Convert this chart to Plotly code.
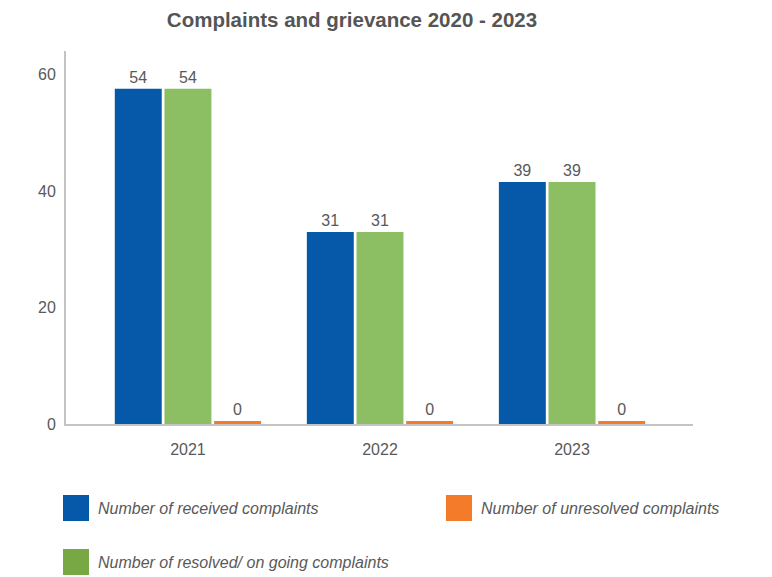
import plotly.graph_objects as go

years = ["2021", "2022", "2023"]

# bar heights as read against the y axis; the printed labels are kept separately
received_height = [57.6, 33.0, 41.6]
resolved_height = [57.6, 33.0, 41.6]
unresolved_height = [0.5, 0.5, 0.5]

received_label = ["54", "31", "39"]
resolved_label = ["54", "31", "39"]
unresolved_label = ["0", "0", "0"]

y_ticks = [0, 20, 40, 60]

legend_names = [
    "Number of received complaints",
    "Number of unresolved complaints",
    "Number of resolved/ on going complaints",
]

BLUE = "#0559A8"
GREEN = "#8CBE63"
GREEN_KEY = "#77A843"
ORANGE = "#F47B29"
TEXT = "#595959"
FONT = "Liberation Sans, Arial, sans-serif"

# the page body has an 8px margin, so the figure sits at (8, 8)
OFF = 8
W, H = 772 - OFF, 577 - OFF
L, R, T, B = 66 - OFF, 79, 51 - OFF, 153
PW, PH = W - L - R, H - T - B


def px_x(x):
    return (x - OFF - L) / PW


def px_y(y):
    return (H - B - (y - OFF)) / PH


fig = go.Figure()
for name, heights, labels, color in [
    (legend_names[0], received_height, received_label, BLUE),
    (legend_names[2], resolved_height, resolved_label, GREEN),
    (legend_names[1], unresolved_height, unresolved_label, ORANGE),
]:
    fig.add_trace(
        go.Bar(
            x=years,
            y=heights,
            name=name,
            marker={"color": color, "line": {"width": 0}},
            text=labels,
            textposition="outside",
            textfont={"size": 16, "color": TEXT, "family": FONT},
            cliponaxis=False,
        )
    )

fig.update_layout(
    width=W,
    height=H,
    template="simple_white",
    paper_bgcolor="white",
    plot_bgcolor="white",
    font={"family": FONT, "color": TEXT, "size": 16},
    title={
        "text": "<b>Complaints and grievance 2020 - 2023</b>",
        "x": (352 - OFF) / W,
        "xanchor": "center",
        "y": 1 - (20 - OFF) / H,
        "yanchor": "middle",
        "font": {"size": 20.5, "color": "#555555", "family": FONT},
    },
    margin={"l": L, "r": R, "t": T, "b": B},
    barmode="group",
    bargap=0.224,
    bargroupgap=0.055,
    showlegend=False,
)
fig.update_xaxes(
    range=[-0.635, 2.63],
    showline=True,
    linecolor="#C4C4C4",
    linewidth=2,
    ticks="",
    tickfont={"size": 16, "color": TEXT},
    ticklabelstandoff=10,
)
fig.update_yaxes(
    range=[0, 64.1],
    tickvals=y_ticks,
    showline=True,
    linecolor="#C4C4C4",
    linewidth=2,
    ticks="",
    showgrid=False,
    zeroline=False,
    tickfont={"size": 16, "color": TEXT},
    ticklabelstandoff=5,
)

# legend drawn by hand so that the keys are large squares
keys = [
    (63, 495, legend_names[0], BLUE),
    (446, 495, legend_names[1], ORANGE),
    (63, 549, legend_names[2], GREEN_KEY),
]
for x0, y0, name, color in keys:
    fig.add_shape(
        type="rect",
        xref="paper",
        yref="paper",
        x0=px_x(x0),
        x1=px_x(x0 + 26),
        y0=px_y(y0),
        y1=px_y(y0 + 26),
        fillcolor=color,
        opacity=1,
        layer="above",
        line={"width": 0},
    )
    fig.add_annotation(
        xref="paper",
        yref="paper",
        x=px_x(x0 + 33),
        y=px_y(y0 + 13),
        xanchor="left",
        yanchor="middle",
        text=f"<i>{name}</i>",
        showarrow=False,
        font={"size": 16, "color": TEXT, "family": FONT},
    )

fig.write_html("out.html")
